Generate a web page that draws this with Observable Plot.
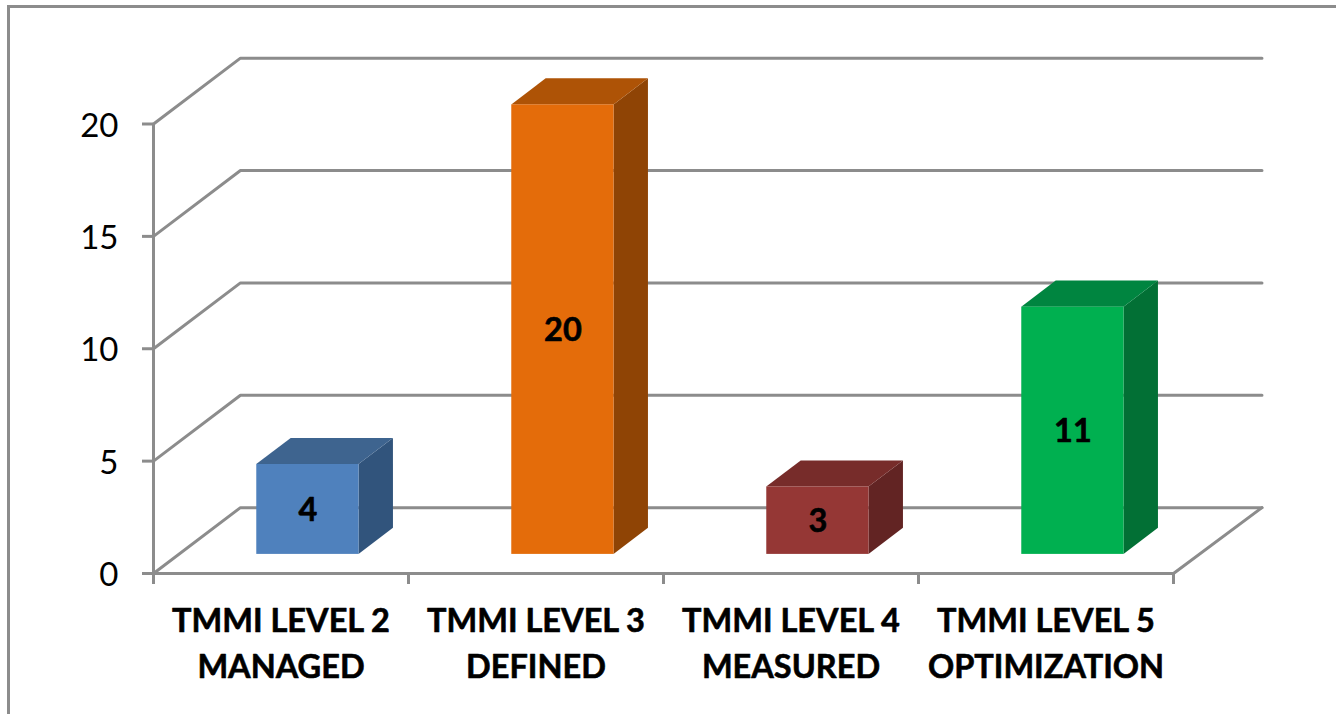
<!DOCTYPE html>
<html>
<head>
<meta charset="utf-8">
<script src="https://cdn.jsdelivr.net/npm/d3@7"></script>
<script src="https://cdn.jsdelivr.net/npm/@observablehq/plot@0.6"></script>
<style>
  html, body { margin: 0; padding: 0; background: #fff; overflow: hidden; }
  #frame { position: absolute; left: 7px; top: 5px; right: -10px; bottom: -10px; border-left: 3px solid #8c8c8c; border-top: 3px solid #8c8c8c; }
  #chart { position: absolute; left: 0; top: 0; }
</style>
</head>
<body>
<div id="frame"></div>
<div id="chart"></div>
<script>
const categories = ["TMMI LEVEL 2\nMANAGED", "TMMI LEVEL 3\nDEFINED", "TMMI LEVEL 4\nMEASURED", "TMMI LEVEL 5\nOPTIMIZATION"];
const values = [4, 20, 3, 11];
const frontColors = ["#4f81bd", "#e46c0a", "#953735", "#00b050"];
const sideColors = ["#31547c", "#8f4405", "#622423", "#027035"];
const topColors = ["#3e648f", "#ae5306", "#772c2a", "#008540"];
const yTicks = [0, 5, 10, 15, 20];

// projection of the pseudo-3D box, in data units
const wallDx = 0.341, wallDy = 2.93, wallEnd = 4.347, xMax = 4;
const barLeft = 0.405, barWidth = 0.401, barDx = 0.135, barDy = 1.16, barBase = 0.85;

const gridPts = yTicks.flatMap(t => [
  {t, x: 0, y: t},
  {t, x: wallDx, y: t + wallDy},
  {t, x: wallEnd, y: t + wallDy}
]);
const floorEdge = [{x: xMax, y: 0}, {x: wallEnd, y: wallDy}];

const bars = values.map((v, i) => ({
  i, v,
  x1: i + barLeft,
  x2: i + barLeft + barWidth,
  y1: barBase,
  y2: barBase + v
}));
const sides = bars.flatMap(b => [
  {i: b.i, x: b.x2, y1: b.y1, y2: b.y2},
  {i: b.i, x: b.x2 + barDx, y1: b.y1 + barDy, y2: b.y2 + barDy}
]);
const tops = bars.flatMap(b => [
  {i: b.i, y: b.y2, x1: b.x1, x2: b.x2},
  {i: b.i, y: b.y2 + barDy, x1: b.x1 + barDx, x2: b.x2 + barDx}
]);

const lineStyle = {stroke: "#8c8c8c", strokeWidth: 3};
const font = "Lato, Carlito, Calibri, sans-serif";

const chart = Plot.plot({
  width: 1336,
  height: 714,
  marginLeft: 153,
  marginRight: 163,
  marginTop: 123.5,
  marginBottom: 141,
  style: {background: "transparent", fontFamily: font},
  x: {domain: [0, 4], axis: null},
  y: {domain: [0, 20], axis: null},
  marks: [
    Plot.line(gridPts, {x: "x", y: "y", z: "t", ...lineStyle}),
    Plot.line(floorEdge, {x: "x", y: "y", ...lineStyle}),
    Plot.ruleX([0], {y1: 0, y2: 20, ...lineStyle}),
    Plot.ruleY([0], {x1: 0, x2: xMax, ...lineStyle}),
    Plot.axisY({ticks: yTicks, tickSize: 11, tickFormat: () => "", label: null, stroke: "#8c8c8c", strokeWidth: 3}),
    Plot.axisY({ticks: yTicks, tickSize: 0, tickPadding: 35, dy: 2, fontSize: 33, label: null, fill: "black"}),
    Plot.axisX({ticks: [0, 1, 2, 3, 4], tickSize: 11, tickFormat: () => "", label: null, stroke: "#8c8c8c", strokeWidth: 3}),
    Plot.areaY(sides, {x: "x", y1: "y1", y2: "y2", z: "i", fill: d => sideColors[d.i]}),
    Plot.areaX(tops, {y: "y", x1: "x1", x2: "x2", z: "i", fill: d => topColors[d.i]}),
    Plot.rect(bars, {x1: "x1", x2: "x2", y1: "y1", y2: "y2", fill: d => frontColors[d.i]}),
    Plot.text(bars, {x: d => (d.x1 + d.x2) / 2, y: d => d.y1 + d.v / 2, dy: 1, text: d => String(d.v), fontSize: 32.5, fontWeight: 700, fill: "black", stroke: "black", strokeWidth: 0.6}),
    Plot.text(categories, {x: (d, i) => i + 0.5, y: -2.98, text: d => d, fontSize: 32.5, fontWeight: 700, lineHeight: 1.415, fill: "black", stroke: "black", strokeWidth: 0.6})
  ]
});
document.getElementById("chart").appendChild(chart);
</script>
</body>
</html>
